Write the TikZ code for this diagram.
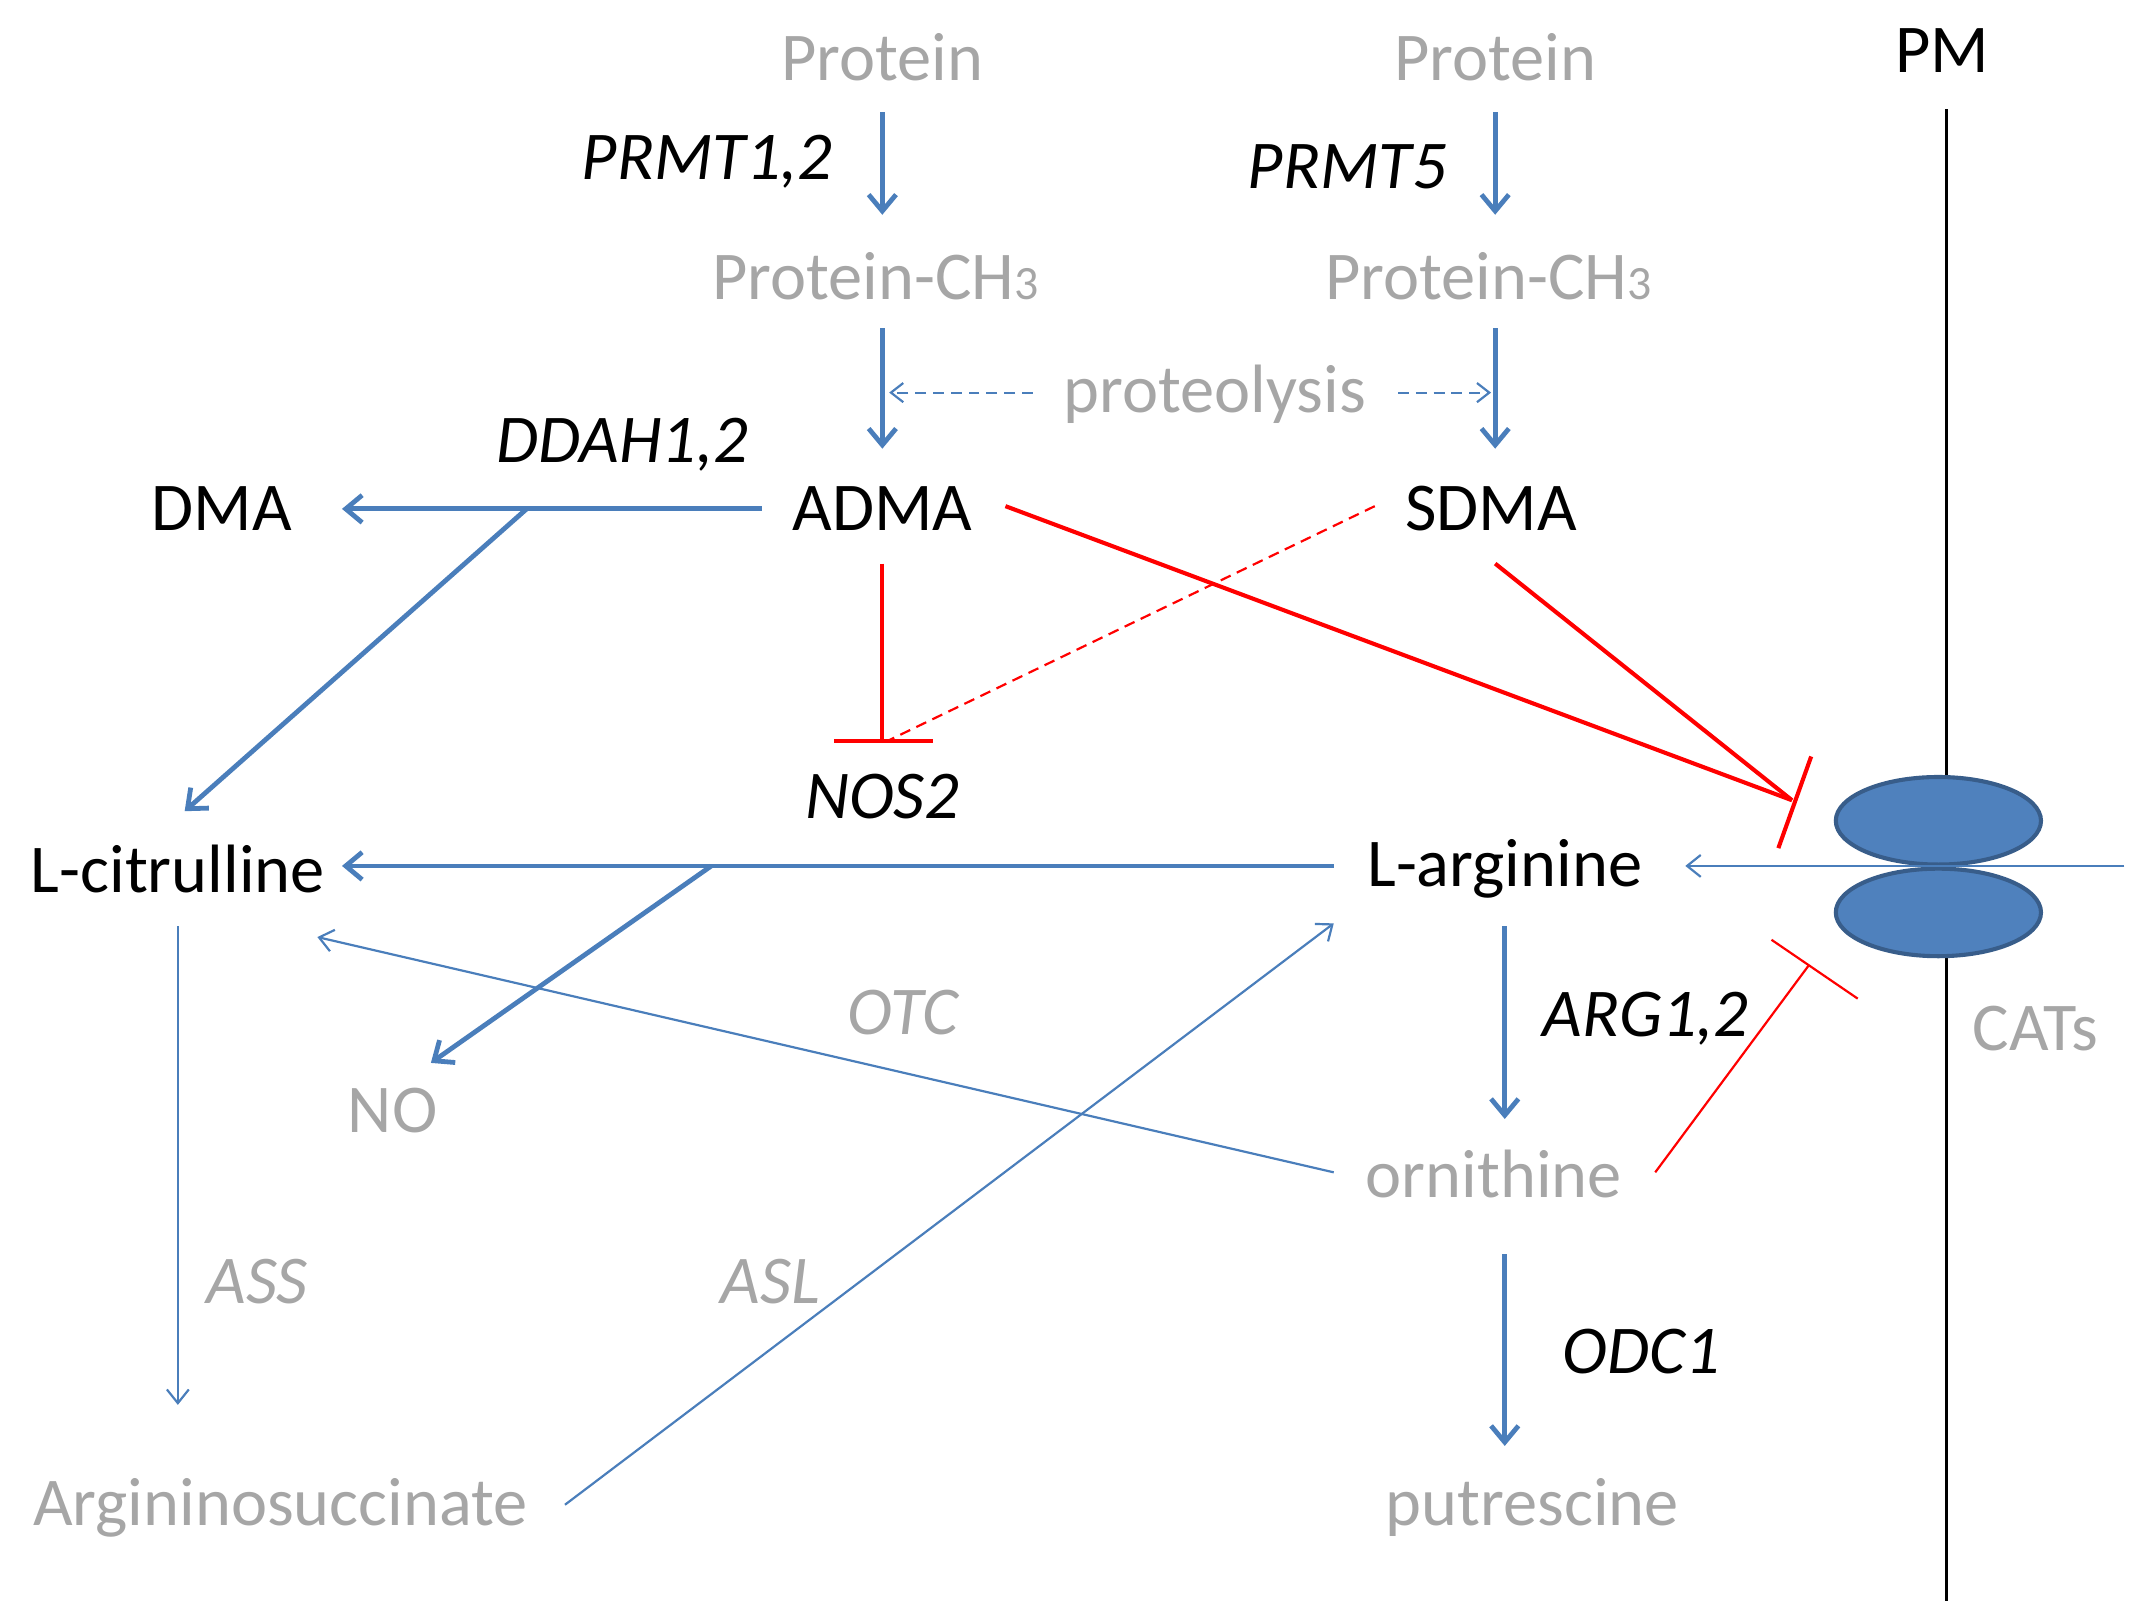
\documentclass[tikz,border=0pt]{standalone}
\usepackage{fontspec}
\setmainfont{Carlito}
\usetikzlibrary{arrows.meta,shapes.geometric}
\definecolor{blu}{HTML}{4A7EBB}
\definecolor{gry}{HTML}{A6A6A6}
\definecolor{cat}{HTML}{4F81BD}
\definecolor{catd}{HTML}{385D8A}
\begin{document}
\begin{tikzpicture}[x=1pt,y=-1pt,
  t/.style={font=\fontsize{50}{56}\selectfont,inner sep=0pt},
  g/.style={t,text=gry},
  k/.style={t,text=black},
  ik/.style={t,text=black,font=\fontsize{50}{56}\selectfont\itshape},
  ig/.style={t,text=gry,font=\fontsize{50}{56}\selectfont\itshape},
  thick arr/.style={blu,line width=3.5pt,-{Straight Barb[length=12pt,width=20pt,line width=3.5pt]}},
  thin arr/.style={blu,line width=1.6pt,-{Straight Barb[length=10pt,width=16pt,line width=1.6pt]}},
  dash arr/.style={blu,line width=1.6pt,dash pattern=on 8pt off 5pt,-{Straight Barb[length=9pt,width=14pt,line width=1.6pt]}},
  inh/.style={red,line width=3pt},
  inhthin/.style={red,line width=1.6pt}]
\useasboundingbox (0,0) rectangle (1560,1183);
% texts
\node[g] (p1) at (645,42) {Protein};
\node[g] (p2) at (1093,42) {Protein};
\node[ik] (prmt12) at (517,118) {PRMT1,2};
\node[ik] (prmt5) at (985,122) {PRMT5};
\node[g] (pc1) at (640,202) {Protein-CH{\fontsize{35}{37}\selectfont 3}};
\node[g] (pc2) at (1088,202) {Protein-CH{\fontsize{35}{37}\selectfont 3}};
\node[g] (prot) at (888,288) {proteolysis};
\node[ik] (ddah) at (455,325) {DDAH1,2};
\node[k] (dma) at (162,372) {DMA};
\node[k] (adma) at (645,372) {ADMA};
\node[k] (sdma) at (1090,372) {SDMA};
\node[ik] (nos) at (645,582) {NOS2};
\node[k] (cit) at (130,635) {L-citrulline};
\node[k] (arg) at (1100,635) {L-arginine};
\node[g] (no) at (287,812) {NO};
\node[k] (pm) at (1420,37) {PM};
\node[g] (cats) at (1488,752) {CATs};
\node[ik] (arg12) at (1203,745) {ARG1,2};
\node[g] (orn) at (1092,858) {ornithine};
\node[ig] (otc) at (660,740) {OTC};
\node[ig] (ass) at (188,937) {ASS};
\node[ig] (asl) at (563,937) {ASL};
\node[g] (as) at (205,1102) {Argininosuccinate};
\node[g] (put) at (1120,1102) {putrescine};
\node[ik] (odc) at (1200,988) {ODC1};
% membrane
\coordinate (pmt) at (1423,80); \coordinate (pmb) at (1423,1170);
\draw[black,line width=2.5pt] (pmt) -- (pmb);
\node[ellipse,draw=catd,fill=cat,line width=3pt,minimum width=150pt,minimum height=64pt] (c1) at (1417,600) {};
\node[ellipse,draw=catd,fill=cat,line width=3pt,minimum width=150pt,minimum height=64pt] (c2) at (1417,667) {};
% arrows
\draw[thick arr] (645,82) -- (645,157);
\draw[thick arr] (1093,82) -- (1093,157);
\draw[thick arr] (645,240) -- (645,328);
\draw[thick arr] (1093,240) -- (1093,328);
\draw[dash arr] (755,287) -- (650,287);
\draw[dash arr] (1022,287) -- (1090,287);
\draw[thick arr] (557,372) -- (250,372);
\draw[thick arr] (385,372) -- (135,593);
\draw[inh] (645,412) -- (645,542);
\draw[inh] (610,542) -- (682,542);
\draw[red,line width=1.6pt,dash pattern=on 8pt off 5pt] (1005,370) -- (648,542);
\draw[inh] (735,370) -- (1310,585);
\draw[inh] (1093,412) -- (1310,585);
\draw[inh] (1324,553) -- (1300,620);
\draw[thick arr] (975,633) -- (250,633);
\draw[thick arr] (520,633) -- (315,777);
\draw[thin arr] (1553,633) -- (1232,633);
\draw[thick arr] (1100,677) -- (1100,818);
\draw[inhthin] (1210,857) -- (1322,706);
\draw[inhthin] (1295,687) -- (1358,730);
\draw[thin arr] (975,857) -- (232,685);
\draw[thin arr] (130,677) -- (130,1027);
\draw[thin arr] (413,1100) -- (975,675);
\draw[thick arr] (1100,917) -- (1100,1057);
\end{tikzpicture}
\end{document}
